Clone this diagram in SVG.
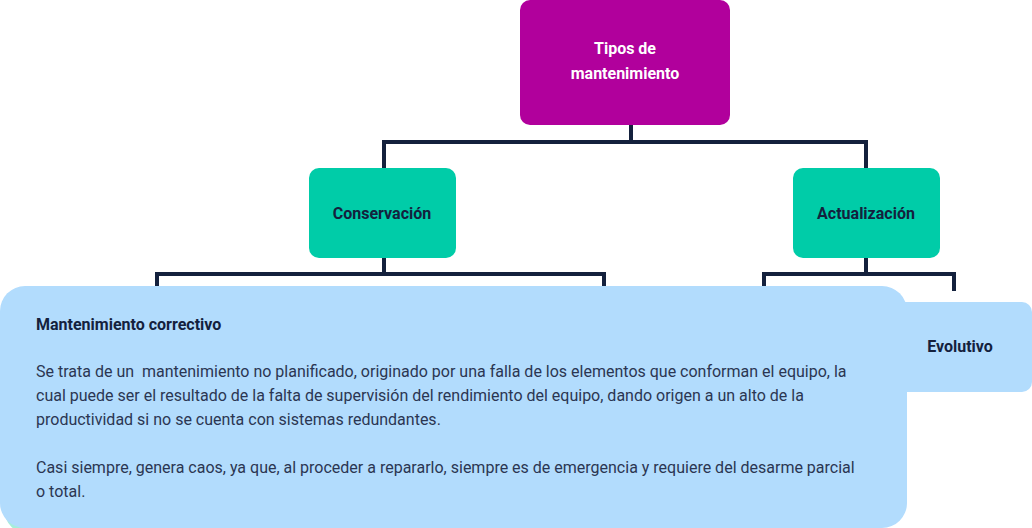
<svg xmlns="http://www.w3.org/2000/svg" width="1032" height="528" viewBox="0 0 1032 528">
<style>
.lbl{font-family:Roboto,"Liberation Sans",sans-serif;font-weight:bold;font-size:16px;fill:#14213D;text-anchor:middle}
.wht{fill:#FFFFFF}
.body{font-family:Roboto,"Liberation Sans",sans-serif;font-size:16px;fill:#2B3652;white-space:pre}
.ttl{font-family:Roboto,"Liberation Sans",sans-serif;font-weight:bold;font-size:16px;fill:#14213D}
.ln{fill:none;stroke:#14213D;stroke-width:4;stroke-linejoin:miter}
</style>
<rect width="1032" height="528" fill="#FFFFFF"/>
<g id="connectors">
<path class="ln" d="M631 125 V142 M384 169 V142 H866 V169"/>
<path class="ln" d="M384 258 V274 M157 290 V274 H604 V290"/>
<path class="ln" d="M866 258 V274 M764 290 V274 H954 V291"/>
</g>
<g id="node-tipos">
<rect x="520" y="0" width="210" height="125" rx="10" fill="#B1009C"/>
<text class="lbl wht" x="625" y="54">Tipos de</text>
<text class="lbl wht" x="625" y="79">mantenimiento</text>
</g>
<g id="node-conservacion">
<rect x="309" y="168" width="147" height="90" rx="10" fill="#00CCA8"/>
<text class="lbl" x="382" y="219">Conservación</text>
</g>
<g id="node-actualizacion">
<rect x="793" y="168" width="147" height="90" rx="10" fill="#00CCA8"/>
<text class="lbl" x="866" y="219">Actualización</text>
</g>
<g id="node-evolutivo">
<rect x="880" y="302" width="152" height="90" rx="10" fill="#B2DCFD"/>
<text class="lbl" x="960" y="352">Evolutivo</text>
</g>
<g id="node-hidden">
<rect x="4" y="294" width="860" height="240" rx="25" fill="#A6EEDA"/>
</g>
<g id="node-correctivo">
<rect x="0" y="286" width="907" height="242" rx="25" fill="#B2DCFD"/>
<text class="ttl" x="36" y="330">Mantenimiento correctivo</text>
<text class="body" x="36" y="377">Se trata de un  mantenimiento no planificado, originado por una falla de los elementos que conforman el equipo, la</text>
<text class="body" x="36" y="401">cual puede ser el resultado de la falta de supervisión del rendimiento del equipo, dando origen a un alto de la</text>
<text class="body" x="36" y="425">productividad si no se cuenta con sistemas redundantes.</text>
<text class="body" x="36" y="473">Casi siempre, genera caos, ya que, al proceder a repararlo, siempre es de emergencia y requiere del desarme parcial</text>
<text class="body" x="36" y="497">o total.</text>
</g>
</svg>
